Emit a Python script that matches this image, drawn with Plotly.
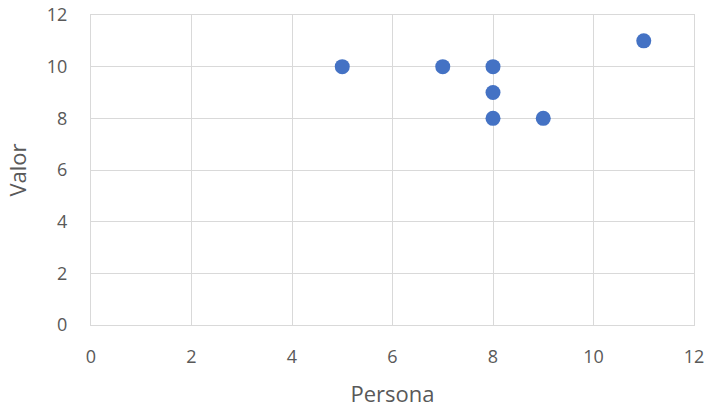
import plotly.graph_objects as go

persona = [5, 7, 8, 8, 8, 9, 11]
valor = [10, 10, 10, 9, 8, 8, 11]
x_ticks = [0, 2, 4, 6, 8, 10, 12]
y_ticks = [0, 2, 4, 6, 8, 10, 12]

fig = go.Figure(go.Scatter(
    x=persona, y=valor, mode="markers",
    marker=dict(color="#4472C4", size=15, line=dict(width=0)),
))

axis_common = dict(
    showgrid=True, gridcolor="#D9D9D9", gridwidth=1,
    zeroline=False, showline=True, mirror=True, linecolor="#D9D9D9",
    ticks="", tickfont=dict(size=18, color="#595959"),
    title_font=dict(size=22, color="#595959"),
    automargin=False, ticklabeloverflow="allow",
)

fig.update_layout(
    width=707, height=408,
    margin=dict(l=91, r=13, t=15, b=83),
    plot_bgcolor="white", paper_bgcolor="white",
    font=dict(family="Open Sans, Liberation Sans, sans-serif"),
    showlegend=False,
    xaxis=dict(range=[0, 12], tickvals=x_ticks, title_text="Persona",
               ticklabelstandoff=15, title_standoff=21, **axis_common),
    yaxis=dict(range=[0, 12], tickvals=y_ticks, title_text="Valor",
               ticklabelstandoff=19, title_standoff=14, **axis_common),
)

fig.write_html("out.html", config={"displayModeBar": False},
               post_script="document.body.style.margin='0';")
